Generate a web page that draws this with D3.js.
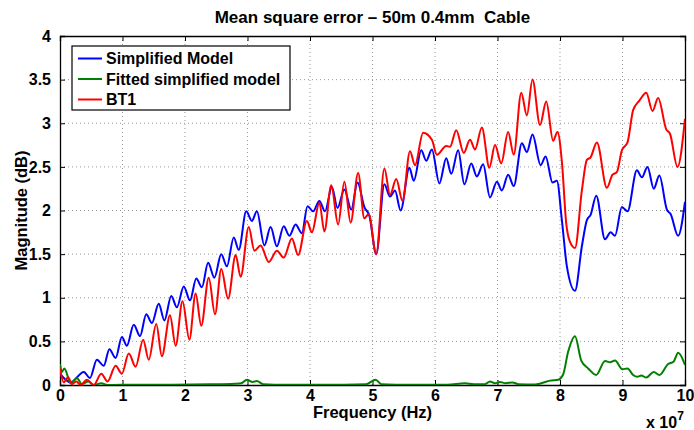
<!DOCTYPE html>
<html>
<head>
<meta charset="utf-8">
<script src="https://cdn.jsdelivr.net/npm/d3@7"></script>
<style>
  body { margin: 0; background: #fff; }
  text { font-family: "Liberation Sans", Arial, sans-serif; font-weight: bold; }
</style>
</head>
<body>
<div id="chart"></div>
<script>
// frequency in units of 1e7 Hz, magnitude in dB
var xTicks = [0, 1, 2, 3, 4, 5, 6, 7, 8, 9, 10];
var yTicks = [0, 0.5, 1, 1.5, 2, 2.5, 3, 3.5, 4];
var seriesNames = ["Simplified Model", "Fitted simplified model", "BT1"];
var seriesColors = ["#0000ff", "#008000", "#ff0000"];

var simplified = [[0,0.13],[0.17,0.03],[0.38,0.15],[0.48,0.08],[0.59,0.29],[0.70,0.22],[0.79,0.41],[0.89,0.31],[0.99,0.55],[1.07,0.45],
  [1.18,0.69],[1.28,0.56],[1.38,0.81],[1.47,0.71],[1.58,0.93],[1.67,0.74],[1.78,1.02],[1.87,0.89],[1.98,1.13],[2.08,0.97],
  [2.18,1.22],[2.27,1.12],[2.37,1.40],[2.47,1.23],[2.58,1.50],[2.67,1.36],[2.78,1.69],[2.86,1.55],[2.98,1.99],[3.07,1.88],
  [3.15,1.99],[3.27,1.60],[3.37,1.81],[3.47,1.59],[3.58,1.82],[3.67,1.71],[3.77,1.84],[3.87,1.74],[3.96,2.05],[4.05,1.99],
  [4.15,2.11],[4.24,1.99],[4.35,2.27],[4.44,2.03],[4.55,2.24],[4.66,2.01],[4.76,2.32],[4.87,2.04],[4.95,1.94],[5.06,1.50],
  [5.19,2.30],[5.28,2.16],[5.36,2.23],[5.45,2.00],[5.59,2.49],[5.66,2.34],[5.78,2.69],[5.86,2.57],[5.95,2.70],[6.07,2.31],
  [6.18,2.60],[6.26,2.42],[6.37,2.69],[6.47,2.30],[6.58,2.54],[6.67,2.39],[6.77,2.53],[6.88,2.15],[6.99,2.33],[7.07,2.23],
  [7.17,2.41],[7.26,2.28],[7.39,2.77],[7.47,2.67],[7.56,2.87],[7.69,2.52],[7.77,2.62],[7.88,2.32],[7.95,2.34],[8.03,1.89],
  [8.11,1.36],[8.24,1.08],[8.35,1.59],[8.43,1.89],[8.49,1.95],[8.58,2.17],[8.72,1.67],[8.81,1.75],[8.88,1.71],[8.99,2.04],
  [9.08,1.99],[9.23,2.46],[9.31,2.38],[9.40,2.50],[9.50,2.25],[9.59,2.40],[9.71,2.01],[9.77,1.96],[9.89,1.71],[10.0,2.10]];

var fitted = [[0,0.24],[0.03,0.15],[0.07,0.19],[0.17,0.02],[0.27,0.08],[0.35,0.01],[0.45,0.04],[0.54,0.0],[0.66,0.02],[0.76,0.0],
  [1.2,0.004],[1.8,0.004],[2.4,0.008],[2.8,0.015],[2.9,0.02],[2.99,0.06],[3.08,0.035],[3.15,0.045],[3.25,0.01],[3.6,0.004],
  [4.2,0.004],[4.9,0.01],[5.05,0.06],[5.14,0.01],[5.6,0.004],[6.2,0.004],[6.48,0.02],[6.62,0.01],[6.8,0.01],[6.88,0.04],
  [6.96,0.02],[7.04,0.035],[7.13,0.02],[7.24,0.03],[7.33,0.01],[7.6,0.005],[7.7,0.02],[7.84,0.05],[7.97,0.06],[8.05,0.12],
  [8.13,0.38],[8.24,0.56],[8.34,0.28],[8.45,0.19],[8.58,0.115],[8.72,0.275],[8.80,0.26],[8.88,0.28],[9.00,0.18],[9.08,0.19],
  [9.17,0.115],[9.24,0.095],[9.30,0.11],[9.38,0.085],[9.50,0.15],[9.59,0.115],[9.73,0.24],[9.82,0.27],[9.89,0.37],[10.0,0.23]];

var bt1 = [[0,0.19],[0.06,0.03],[0.13,0.09],[0.19,0.01],[0.26,0.04],[0.33,0.0],[0.43,0.06],[0.54,0.0],[0.66,0.13],[0.76,0.04],
  [0.89,0.22],[0.99,0.13],[1.10,0.36],[1.21,0.21],[1.33,0.52],[1.42,0.29],[1.54,0.70],[1.63,0.33],[1.76,0.80],[1.85,0.45],
  [1.96,0.96],[2.07,0.52],[2.17,1.05],[2.26,0.68],[2.38,1.23],[2.48,0.81],[2.58,1.33],[2.69,0.99],[2.81,1.49],[2.89,1.24],
  [3.02,1.81],[3.11,1.54],[3.21,1.60],[3.34,1.41],[3.47,1.54],[3.58,1.46],[3.71,1.68],[3.81,1.49],[3.95,1.88],[4.03,1.75],
  [4.15,2.09],[4.23,1.76],[4.34,2.29],[4.45,1.84],[4.55,2.33],[4.65,1.86],[4.77,2.43],[4.87,1.91],[4.94,1.96],[5.06,1.50],
  [5.19,2.48],[5.28,2.18],[5.38,2.36],[5.48,2.11],[5.60,2.68],[5.68,2.52],[5.81,2.89],[5.95,2.81],[6.03,2.64],[6.18,2.74],
  [6.24,2.73],[6.34,2.92],[6.46,2.66],[6.56,2.81],[6.64,2.70],[6.75,2.95],[6.87,2.49],[6.96,2.75],[7.06,2.54],[7.17,2.90],
  [7.26,2.64],[7.38,3.35],[7.47,3.09],[7.56,3.50],[7.68,2.98],[7.78,3.25],[7.89,2.80],[7.96,2.90],[8.03,2.56],[8.10,1.85],
  [8.16,1.64],[8.24,1.57],[8.35,2.23],[8.43,2.58],[8.49,2.61],[8.59,2.78],[8.75,2.26],[8.84,2.41],[8.91,2.44],[8.99,2.69],
  [9.08,2.78],[9.17,3.15],[9.27,3.26],[9.38,3.35],[9.48,3.14],[9.57,3.29],[9.70,2.93],[9.76,2.88],[9.88,2.50],[10.0,3.05]];

var W = 694, H = 430,
    margin = {left: 60, right: 9, top: 36, bottom: 45},
    width = W - margin.left - margin.right,
    height = H - margin.top - margin.bottom;

var svg = d3.select("#chart").append("svg")
    .attr("width", W)
    .attr("height", H);

var g = svg.append("g").attr("transform", "translate(" + margin.left + "," + margin.top + ")");

var x = d3.scaleLinear().domain([0, 10]).range([0, width]),
    y = d3.scaleLinear().domain([0, 4]).range([height, 0]);

// dotted grid
g.selectAll(".gx").data(xTicks.slice(1, -1)).enter().append("line")
    .attr("x1", function(d) { return x(d); }).attr("x2", function(d) { return x(d); })
    .attr("y1", 0).attr("y2", height)
    .attr("stroke", "#999").attr("stroke-dasharray", "1,3");
g.selectAll(".gy").data(yTicks.slice(1, -1)).enter().append("line")
    .attr("y1", function(d) { return y(d); }).attr("y2", function(d) { return y(d); })
    .attr("x1", 0).attr("x2", width)
    .attr("stroke", "#999").attr("stroke-dasharray", "1,3");

// axes, ticks inside on all sides
var xb = g.append("g").attr("transform", "translate(0," + height + ")")
    .call(d3.axisBottom(x).tickValues(xTicks).tickSize(-5).tickPadding(5).tickFormat(d3.format("d")));
var xt = g.append("g").call(d3.axisTop(x).tickValues(xTicks).tickSize(-5).tickFormat(""));
var yl = g.append("g")
    .call(d3.axisLeft(y).tickValues(yTicks).tickSize(-5).tickPadding(9).tickFormat(function(d) { return String(d); }));
var yr = g.append("g").attr("transform", "translate(" + width + ",0)")
    .call(d3.axisRight(y).tickValues(yTicks).tickSize(-5).tickFormat(""));

[xb, xt, yl, yr].forEach(function(a) {
  a.selectAll("path").attr("stroke", "#000").attr("stroke-width", 1.3);
  a.selectAll("line").attr("stroke", "#000");
  a.selectAll("text").attr("fill", "#000").style("font-size", "16px").style("font-family", null);
});

// curves
g.append("clipPath").attr("id", "clip").append("rect")
    .attr("width", width).attr("height", height);

var line = d3.line()
    .curve(d3.curveMonotoneX)
    .x(function(d) { return x(d[0]); })
    .y(function(d) { return y(d[1]); });

var data = [simplified, fitted, bt1];
g.append("g").attr("clip-path", "url(#clip)")
  .selectAll("path").data(data).enter().append("path")
    .attr("d", line)
    .attr("fill", "none")
    .attr("stroke", function(d, i) { return seriesColors[i]; })
    .attr("stroke-width", 2);

// legend
var legend = g.append("g").attr("transform", "translate(12,10)");
legend.append("rect")
    .attr("width", 218).attr("height", 64)
    .attr("fill", "#fff").attr("stroke", "#000").attr("stroke-width", 1.2);
seriesNames.forEach(function(name, i) {
  var ly = 12.5 + i * 20.5;
  legend.append("line")
      .attr("x1", 6).attr("x2", 30).attr("y1", ly).attr("y2", ly)
      .attr("stroke", seriesColors[i]).attr("stroke-width", 2);
  legend.append("text")
      .attr("x", 34).attr("y", ly).attr("dy", "0.36em")
      .style("font-size", "16px")
      .text(name);
});

// titles
svg.append("text")
    .attr("x", margin.left + width / 2).attr("y", 23)
    .attr("text-anchor", "middle")
    .style("font-size", "17px")
    .style("white-space", "pre")
    .text("Mean square error \u2013 50m 0.4mm  Cable");

svg.append("text")
    .attr("x", margin.left + width / 2).attr("y", 418)
    .attr("text-anchor", "middle")
    .style("font-size", "16.5px")
    .text("Frequency (Hz)");

svg.append("text")
    .attr("transform", "translate(27," + (margin.top + height / 2) + ") rotate(-90)")
    .attr("text-anchor", "middle")
    .style("font-size", "16.5px")
    .text("Magnitude (dB)");

var exp = svg.append("text")
    .attr("x", 646).attr("y", 428)
    .style("font-size", "16px");
exp.append("tspan").text("x 10");
exp.append("tspan").attr("dy", -8).style("font-size", "12px").text("7");
</script>
</body>
</html>
